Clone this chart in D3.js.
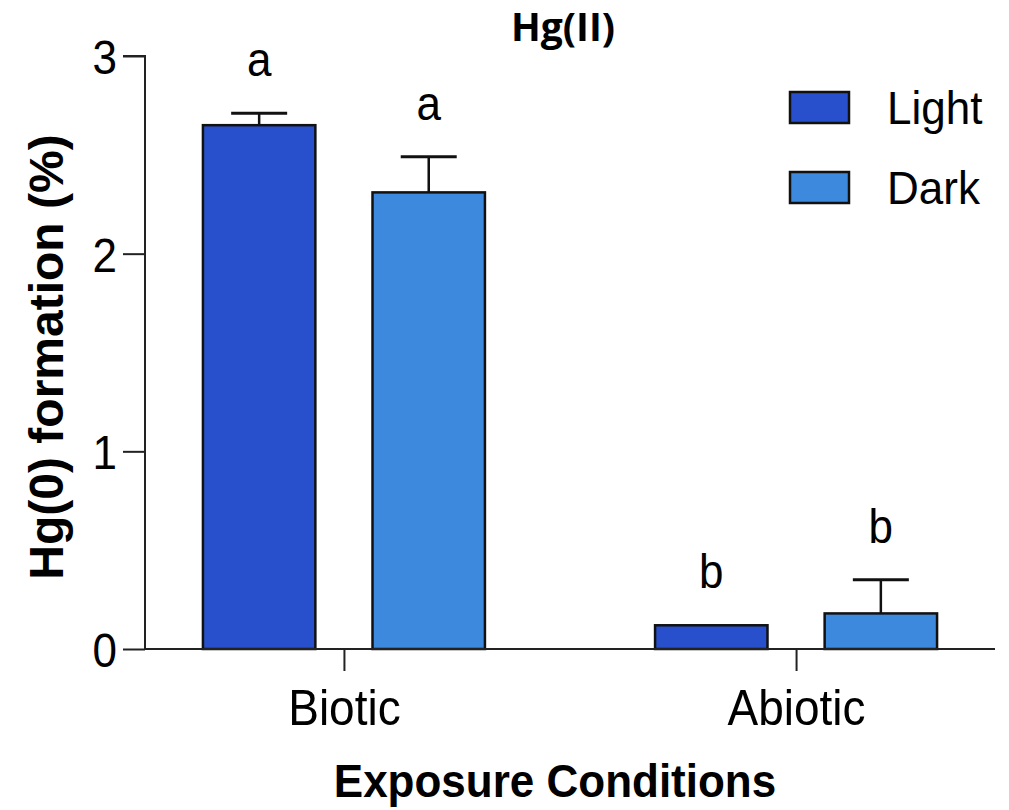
<!DOCTYPE html>
<html>
<head>
<meta charset="utf-8">
<script src="https://cdn.jsdelivr.net/npm/d3@7"></script>
<style>
  body { margin: 0; background: #fff; }
  text { font-family: "Liberation Sans", Arial, sans-serif; }
</style>
</head>
<body>
<div id="chart"></div>
<script>
var categories = ["Biotic", "Abiotic"]
var series = ["Light", "Dark"]
var means = [[2.65, 2.31], [0.12, 0.18]]
var errors = [[0.06, 0.18], [0.0, 0.17]]
var letters = [["a", "a"], ["b", "b"]]
var colors = ["#2850cc", "#3d89dd"]
var yTicks = [0, 1, 2, 3]

var width = 1009, height = 810
var stretch = 1.1  // text in the picture is a bit taller than wide

var svg = d3.select("#chart").append("svg")
    .attr("width", width)
    .attr("height", height)

var y = d3.scaleLinear().domain([0, 3]).range([649, 56])
var x = d3.scalePoint().domain(categories).range([145, 995]).padding(0.44)
var xs = d3.scaleBand().domain(series).range([-141, 141]).paddingInner(0.337)

// y axis
var yAxis = svg.append("g")
    .attr("transform", "translate(145,0)")
    .call(d3.axisLeft(y).tickValues(yTicks).tickFormat(d3.format("d")).tickSize(22).tickPadding(6))
yAxis.selectAll("path, line").attr("stroke", "#222").attr("stroke-width", 2)
yAxis.select(".domain").attr("d", "M-22," + y(3) + "H0V" + y(0))
yAxis.selectAll("text")
    .style("font-family", "Liberation Sans, Arial, sans-serif")
    .style("font-size", "44px")
    .attr("fill", "#000")
    .attr("x", null).attr("dy", null)
    .attr("transform", "translate(-28,0) scale(1," + stretch + ")")
    .attr("y", 0.36*44)

// bars
var rows = []
categories.forEach(function(c, i) {
  series.forEach(function(s, j) {
    rows.push({ cat: c, ser: s, v: means[i][j], e: errors[i][j], lab: letters[i][j], col: colors[j] })
  })
})

var groups = svg.selectAll("g.bar")
    .data(rows)
  .enter().append("g")
    .attr("class", "bar")
    .attr("transform", function(d) { return "translate(" + x(d.cat) + ",0)" })

function mid(d) { return xs(d.ser) + xs.bandwidth()/2 }

groups.filter(function(d) { return d.e > 0 }).append("line")
    .attr("x1", mid).attr("x2", mid)
    .attr("y1", function(d) { return y(d.v) })
    .attr("y2", function(d) { return y(d.v + d.e) })
    .attr("stroke", "#111").attr("stroke-width", 2.5)

groups.filter(function(d) { return d.e > 0 }).append("line")
    .attr("x1", function(d) { return mid(d) - 28 })
    .attr("x2", function(d) { return mid(d) + 28 })
    .attr("y1", function(d) { return y(d.v + d.e) })
    .attr("y2", function(d) { return y(d.v + d.e) })
    .attr("stroke", "#111").attr("stroke-width", 3)

groups.append("rect")
    .attr("x", function(d) { return xs(d.ser) })
    .attr("width", xs.bandwidth())
    .attr("y", function(d) { return y(d.v) })
    .attr("height", function(d) { return y(0) - y(d.v) })
    .attr("fill", function(d) { return d.col })
    .attr("stroke", "#111")
    .attr("stroke-width", 2.5)

groups.append("text")
    .attr("transform", function(d) { return "translate(" + mid(d) + "," + (y(d.v + d.e) - 37) + ") scale(1," + stretch + ")" })
    .attr("text-anchor", "middle")
    .style("font-size", "44px")
    .text(function(d) { return d.lab })

// x axis
var xAxis = svg.append("g")
    .attr("transform", "translate(0," + y(0) + ")")
    .call(d3.axisBottom(x).tickSize(22).tickSizeOuter(0))
xAxis.selectAll("path, line").attr("stroke", "#222").attr("stroke-width", 2)
xAxis.select(".domain").attr("d", "M145,0H995")
xAxis.selectAll("text")
    .style("font-family", "Liberation Sans, Arial, sans-serif")
    .style("font-size", "46px")
    .attr("fill", "#000")
    .attr("y", null).attr("dy", null)
    .attr("transform", "translate(0,76) scale(1," + stretch + ")")

// axis titles
svg.append("text")
    .attr("transform", "translate(63,357) rotate(-90)")
    .attr("text-anchor", "middle")
    .style("font-size", "48px")
    .style("font-weight", "bold")
    .text("Hg(0) formation (%)")

svg.append("text")
    .attr("transform", "translate(555,797) scale(1,1.05)")
    .attr("text-anchor", "middle")
    .style("font-size", "44px")
    .style("font-weight", "bold")
    .text("Exposure Conditions")

svg.append("text")
    .attr("x", 563)
    .attr("y", 41)
    .attr("text-anchor", "middle")
    .style("font-family", "Open Sans, sans-serif")
    .style("font-size", "39px")
    .style("font-weight", "bold")
    .text("Hg(II)")

// legend
var legend = svg.selectAll("g.legend")
    .data(series)
  .enter().append("g")
    .attr("class", "legend")
    .attr("transform", function(d, i) { return "translate(790," + (92 + i*80) + ")" })

legend.append("rect")
    .attr("width", 59).attr("height", 31)
    .attr("fill", function(d, i) { return colors[i] })
    .attr("stroke", "#111").attr("stroke-width", 2.5)

legend.append("text")
    .attr("transform", "translate(97,32) scale(1,1.06)")
    .style("font-size", "44px")
    .text(function(d) { return d })
</script>
</body>
</html>
